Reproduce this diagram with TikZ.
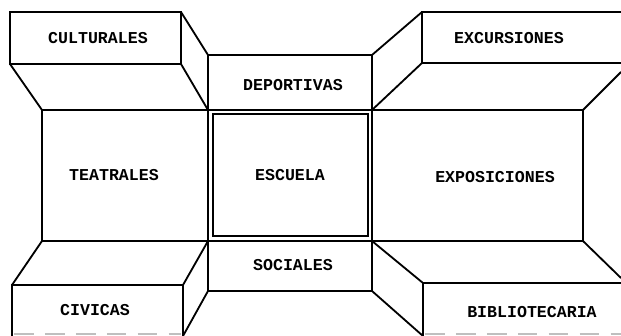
\documentclass[tikz,border=0pt]{standalone}
\usepackage{fontspec}
\newfontfamily\boxfont{Liberation Mono}
\usepackage{tikz}

\begin{document}
\begin{tikzpicture}[x=0.025cm,y=-0.025cm,line width=1.3pt,
    lbl/.style={font=\boxfont\bfseries\fontsize{11.8}{14}\selectfont,inner sep=0pt}]
                \useasboundingbox (0,0) rectangle (621,336);
                \draw (10,12) rectangle (181,64);
                \draw (181,12) -- (208,55);
                \draw (181,64) -- (208,110);
                \draw (10,64) -- (42,110);
                \draw (208,55) rectangle (372,110);
                \draw (42,110) rectangle (208,241);
                \draw (208,110) rectangle (372,241);
                \draw[line width=1pt] (213,114) rectangle (368,236);
                \draw (372,110) rectangle (583,241);
                \draw (208,241) rectangle (372,291);
                \draw (621,12) -- (422,12) -- (422,63) -- (621,63);
                \draw (422,12) -- (372,55);
                \draw (422,63) -- (372,110);
                \draw (583,110) -- (621,72);
                \draw (12,336) -- (12,285) -- (183,285) -- (183,336);
                \draw (12,285) -- (42,241);
                \draw (183,285) -- (208,241);
                \draw (183,336) -- (208,291);
                \draw (621,283) -- (423,283) -- (423,336);
                \draw (423,283) -- (372,241);
                \draw (423,336) -- (372,291);
                \draw (583,241) -- (621,278);
                \draw[gray!50,line width=1pt,dash pattern=on 14pt off 8pt] (14,334) -- (181,334);
                \draw[gray!50,line width=1pt,dash pattern=on 14pt off 8pt] (425,334) -- (621,334);
                \node[lbl] (cult) at (98,38) {CULTURALES};
                \node[lbl] (exc) at (509,38) {EXCURSIONES};
                \node[lbl] (dep) at (293,85) {DEPORTIVAS};
                \node[lbl] (teat) at (114,175) {TEATRALES};
                \node[lbl] (esc) at (290,175) {ESCUELA};
                \node[lbl] (expo) at (495,177) {EXPOSICIONES};
                \node[lbl] (soc) at (293,265) {SOCIALES};
                \node[lbl] (civ) at (95,310) {CIVICAS};
                \node[lbl] (bib) at (532,312) {BIBLIOTECARIA};
            \end{tikzpicture}
\end{document}
